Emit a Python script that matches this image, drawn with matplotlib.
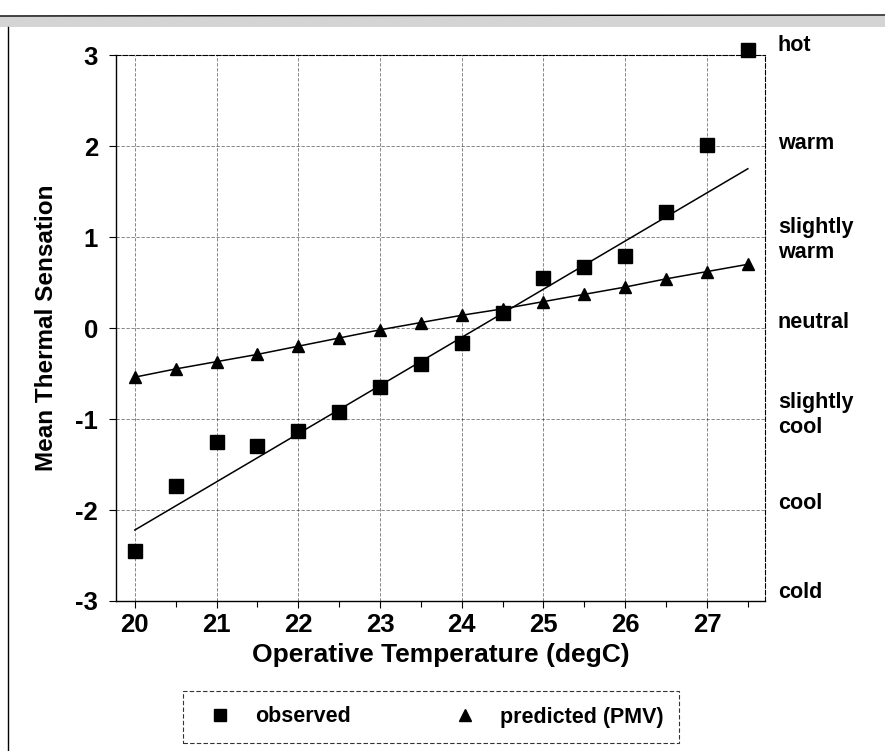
import matplotlib
matplotlib.use("Agg")
import matplotlib.pyplot as plt
from matplotlib.lines import Line2D
from matplotlib.patches import Rectangle

plt.rcParams['font.family'] = ['Liberation Sans', 'DejaVu Sans']
plt.rcParams['font.weight'] = 'bold'
plt.rcParams['axes.unicode_minus'] = False

# ---- data ----
temps = [20, 20.5, 21, 21.5, 22, 22.5, 23, 23.5, 24, 24.5, 25, 25.5, 26, 26.5, 27, 27.5]
observed = [-2.45, -1.74, -1.25, -1.30, -1.13, -0.92, -0.65, -0.40, -0.16, 0.17,
            0.55, 0.67, 0.79, 1.28, 2.01, 3.05]
predicted = [-0.54, -0.45, -0.37, -0.29, -0.20, -0.11, -0.02, 0.06, 0.14, 0.21,
             0.29, 0.37, 0.45, 0.54, 0.62, 0.70]
fit_x = [20, 27.5]
fit_observed = [-2.22, 1.75]
x_ticks = [20, 21, 22, 23, 24, 25, 26, 27]
y_ticks = [-3, -2, -1, 0, 1, 2, 3]
scale_values = [3, 2, 1, 0, -1, -2, -3]
scale_labels = ['hot', 'warm', 'slightly\nwarm', 'neutral', 'slightly\ncool', 'cool', 'cold']
legend_labels = ['observed', 'predicted (PMV)']

# layout: vertical nudges of the right-hand scale labels (pixels, + = down)
label_nudge_px = [-10, -3, 3, -6, -4, -7, -8]

W, H = 885, 751
fig = plt.figure(figsize=(W / 100, H / 100), dpi=100)
ax_l, ax_r, ax_t, ax_b = 116, 765, 55, 601
ax = fig.add_axes([ax_l / W, 1 - ax_b / H, (ax_r - ax_l) / W, (ax_b - ax_t) / H])

grid_kw = dict(color='black', linewidth=0.6, linestyle=(0, (4, 2)), alpha=0.55)
ax.set_axisbelow(True)
ax.grid(True, which='major', **grid_kw)

ax.plot(fit_x, fit_observed, color='black', linewidth=1.1, zorder=3)
ax.plot(temps, predicted, color='black', linewidth=1.1, zorder=3)
ax.plot(temps, observed, linestyle='none', marker='s', markersize=9.5,
        color='black', zorder=4, clip_on=False)
ax.plot(temps, predicted, linestyle='none', marker='^', markersize=8.5,
        color='black', zorder=4, clip_on=False)

ax.set_xlim(19.77, 27.71)
ax.set_ylim(-3, 3)
ax.set_xticks(x_ticks)
ax.set_xticks([t + 0.5 for t in x_ticks], minor=True)
ax.set_yticks(y_ticks)
ax.tick_params(axis='both', which='major', labelsize=18.5, length=5, width=0.8)
ax.tick_params(axis='x', which='minor', length=4, width=0.8)
ax.tick_params(axis='x', pad=4)
ax.tick_params(axis='y', pad=8)

for side in ['top', 'right']:
    ax.spines[side].set_linestyle((0, (4, 2)))
    ax.spines[side].set_linewidth(0.8)
for side in ['left', 'bottom']:
    ax.spines[side].set_linewidth(1.0)

ax.set_xlabel('Operative Temperature (degC)', fontsize=19, fontweight='bold', labelpad=4)
ax.set_ylabel('Mean Thermal Sensation', fontsize=17.5, fontweight='bold', labelpad=12)

ax_h_px = ax_b - ax_t
for v, lab, nud in zip(scale_values, scale_labels, label_nudge_px):
    ax.text(1.02, (v + 3) / 6.0 - nud / ax_h_px, lab, transform=ax.transAxes,
            fontsize=15.5, fontweight='bold', va='center', ha='left', linespacing=1.2)

handles = [Line2D([], [], linestyle='none', marker='s', markersize=8, color='black'),
           Line2D([], [], linestyle='none', marker='^', markersize=9, color='black')]
leg = fig.legend(handles, legend_labels, loc='center', bbox_to_anchor=(431 / W, 1 - 717 / H),
                 ncol=2, fontsize=15.5, frameon=True, fancybox=False,
                 columnspacing=4.3, handletextpad=0.65, borderpad=0.7, handlelength=2.0)
leg.get_frame().set_edgecolor('black')
leg.get_frame().set_linewidth(0.8)
leg.get_frame().set_linestyle((0, (4, 2)))

# scanned page frame
fig.add_artist(Rectangle((0, 1 - 27 / H), 1, 11 / H, transform=fig.transFigure,
                         facecolor='#d4d4d4', edgecolor='none'))
fig.add_artist(Line2D([0, 1], [1 - 16 / H, 1 - 15 / H], transform=fig.transFigure,
                      color='black', linewidth=1.0))
fig.add_artist(Line2D([8 / W, 8 / W], [0, 1 - 27 / H], transform=fig.transFigure,
                      color='black', linewidth=1.0))

fig.savefig('out.png', dpi=100)
